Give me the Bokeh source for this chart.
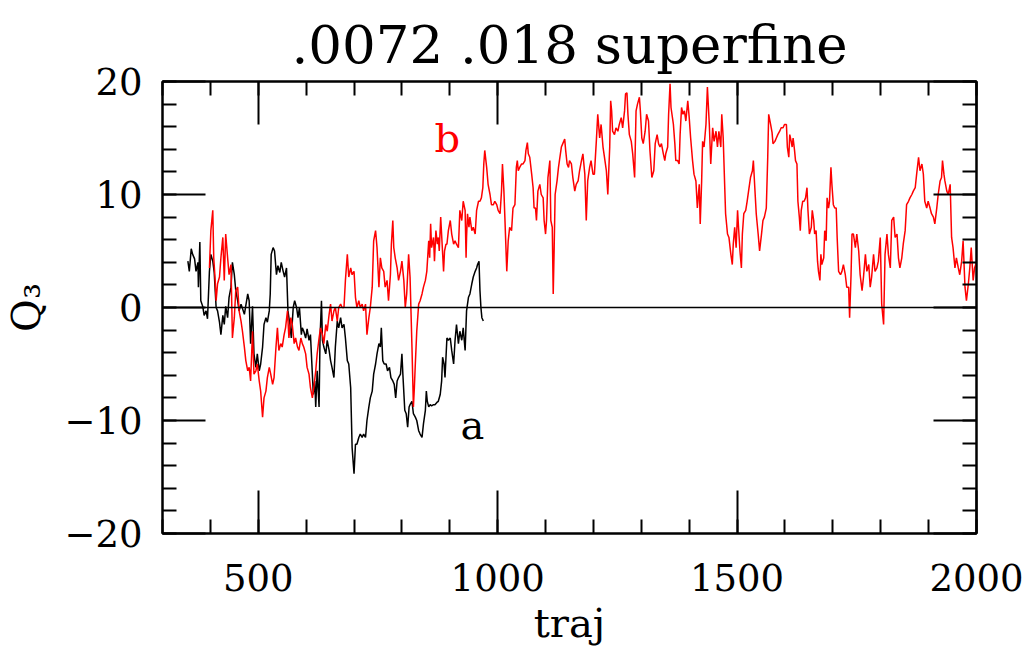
from bokeh.plotting import figure
from bokeh.models import FixedTicker, LinearAxis, Span, Label, CustomJSTickFormatter, Range1d
from bokeh.embed import file_html
from bokeh.resources import INLINE

title_text = ".0072 .018 superfine"
x_label = "traj"
y_label = "Q\u2083"
x_ticks = [500, 1000, 1500, 2000]
y_ticks = [-20, -10, 0, 10, 20]
x_limits = (300, 2000)
y_limits = (-20, 20)

# series "a" (black): (traj, Q3)
a_pts = [
    (353, 4.1), (356, 3.2), (360, 5.2), (363, 4.7), (367, 4.3), (370, 3.2), (374, 4.0), (375, 1.8),
    (378, 5.8), (380, 0.6), (384, 0.1), (387, -0.7), (391, -0.3), (394, -1.0), (398, 3.2), (401, 4.7),
    (405, 4.1), (408, 3.1), (412, 0.0), (415, -0.3), (419, -1.3), (422, -2.4), (426, -0.7), (429, -1.5),
    (432, 0.1), (436, -0.9), (439, 0.9), (443, 1.8), (446, 4.0), (450, 2.9), (453, 1.5), (457, 0.6),
    (460, -0.3), (464, 0.3), (471, -0.6), (478, 1.2), (481, 0.6), (484, -3.2), (488, 0.1), (491, -4.1),
    (495, -5.3), (498, -4.1), (502, -5.6), (505, -5.0), (509, -3.5), (512, -1.5), (516, -0.9), (519, -1.3),
    (523, -0.3), (525, 1.2), (527, 4.7), (531, 5.3), (534, 5.0), (538, 2.9), (541, 3.7), (545, 3.1),
    (548, 4.0), (552, 3.2), (555, 2.7), (559, 3.5), (562, -0.3), (566, -1.5), (569, -2.7), (573, 0.0),
    (576, 0.6), (580, 0.0), (583, -0.9), (586, 0.0), (590, -2.4), (592, -1.8), (595, -2.1), (599, -2.7),
    (602, -1.9), (606, -2.9), (609, -2.4), (613, -5.9), (615, -7.7), (618, -6.5), (620, -8.8), (623, -5.6),
    (627, -8.8), (629, -2.7), (632, 0.6), (634, -2.9), (637, -3.5), (641, -4.1), (644, -2.9), (648, -3.8),
    (651, -4.7), (654, -5.3), (658, -6.2), (661, -3.5), (665, -1.2), (668, -1.8), (672, -0.9), (675, -1.8),
    (679, -1.5), (682, -2.7), (686, -4.7), (689, -5.0), (693, -7.1), (696, -12.4), (700, -14.7), (703, -12.1),
    (706, -12.1), (710, -11.5), (713, -11.2), (717, -11.5), (720, -11.2), (724, -11.5), (727, -10.0), (731, -8.8),
    (734, -8.0), (738, -7.4), (741, -5.9), (745, -5.0), (748, -4.1), (752, -3.2), (755, -3.5), (757, -1.8),
    (760, -4.7), (763, -5.0), (767, -5.0), (770, -5.6), (774, -5.3), (777, -6.2), (781, -6.5), (784, -6.8),
    (787, -8.0), (790, -6.5), (793, -6.2), (797, -5.9), (800, -4.1), (802, -5.9), (806, -9.1), (809, -9.4),
    (812, -10.6), (815, -8.8), (817, -8.6), (821, -8.3), (824, -9.4), (828, -9.7), (831, -10.0), (835, -10.9),
    (838, -11.2), (842, -11.5), (845, -10.3), (849, -9.1), (851, -7.4), (853, -8.3), (856, -8.8), (859, -8.6),
    (862, -8.7), (866, -8.6), (869, -8.6), (873, -8.4), (876, -8.3), (880, -7.7), (883, -6.5), (885, -4.4),
    (888, -5.0), (890, -6.2), (894, -2.7), (897, -2.9), (901, -2.7), (904, -3.8), (908, -5.0), (911, -2.9),
    (914, -1.5), (918, -3.2), (921, -2.1), (925, -2.9), (928, -1.8), (932, -3.8), (935, -0.3), (939, 0.9),
    (942, 1.2), (946, 2.1), (949, 2.7), (953, 3.2), (956, 3.5), (958, 3.8), (961, 4.1), (963, 1.5),
    (965, 0.0), (967, -0.9), (970, -1.2),
]

# series "b" (red): (traj, Q3)
b_pts = [
    (398, 3.5), (401, 6.8), (405, 8.6), (407, 4.4), (410, 2.4), (412, 0.6), (415, 2.1), (419, 2.7),
    (422, 4.4), (426, 6.2), (429, 2.4), (432, 6.5), (436, 4.4), (439, 2.9), (443, 3.8), (446, -2.7),
    (450, -0.9), (453, 1.5), (457, 1.8), (460, -0.3), (464, -1.2), (467, -2.1), (471, -3.5), (474, -4.7),
    (478, -5.6), (481, -5.3), (484, -6.5), (488, -2.1), (491, -5.9), (495, -5.6), (498, -5.0), (502, -6.5),
    (505, -7.4), (509, -9.7), (512, -8.0), (516, -7.4), (519, -6.2), (523, -5.3), (526, -5.9), (530, -6.8),
    (533, -6.2), (537, -3.5), (540, -1.8), (543, -3.8), (547, -3.2), (550, -3.5), (554, -2.4), (557, -1.8),
    (561, -0.3), (564, -2.7), (568, -0.9), (571, -1.5), (575, -3.2), (578, -2.7), (582, -3.5), (585, -3.8),
    (589, -2.7), (592, -3.2), (595, -3.5), (599, -4.1), (602, -5.3), (606, -5.9), (609, -7.1), (613, -8.0),
    (616, -7.1), (620, -5.6), (623, -4.1), (627, -2.7), (630, -1.8), (634, -2.4), (637, -3.2), (641, -1.5),
    (644, -2.1), (648, -0.6), (651, 0.3), (654, -1.2), (658, -0.3), (661, 0.0), (665, -1.2), (668, 0.0),
    (672, 0.3), (675, 0.0), (679, 0.0), (682, 2.4), (686, 4.7), (689, 2.7), (693, 3.5), (696, 2.9),
    (700, 3.2), (703, 0.9), (706, 0.0), (710, 0.6), (713, 0.0), (717, 0.3), (720, -0.3), (724, 0.3),
    (727, -2.4), (731, -0.9), (734, 0.0), (738, 1.8), (741, 5.9), (745, 6.8), (748, 5.3), (752, 1.8),
    (755, 4.4), (758, 3.5), (762, 3.2), (765, 1.8), (769, 2.4), (772, 0.6), (776, 2.9), (778, 5.6),
    (781, 7.7), (783, 5.3), (786, 4.4), (790, 3.5), (793, 2.4), (797, 3.2), (800, 4.1), (804, 2.4),
    (807, 0.0), (810, 1.2), (814, 4.7), (817, 2.7), (821, -3.5), (824, -8.8), (826, -7.1), (828, -5.0),
    (831, -2.1), (835, 0.3), (838, 0.6), (842, 1.2), (845, 1.8), (849, 2.4), (852, 3.2), (856, 5.9),
    (858, 4.4), (860, 7.4), (862, 5.3), (866, 6.2), (868, 4.1), (871, 6.8), (874, 5.6), (876, 6.2),
    (878, 5.0), (881, 8.0), (884, 5.6), (887, 3.2), (889, 5.0), (892, 5.6), (894, 5.6), (897, 6.8),
    (901, 7.7), (904, 6.5), (908, 5.6), (911, 5.9), (914, 5.6), (918, 5.3), (921, 8.6), (925, 7.7),
    (928, 9.4), (932, 8.6), (934, 4.4), (935, 6.2), (937, 8.3), (940, 7.1), (942, 8.0), (946, 6.8),
    (949, 7.1), (953, 6.5), (956, 8.6), (960, 9.4), (963, 9.4), (966, 9.7), (969, 10.6), (971, 12.7),
    (973, 13.9), (977, 12.4), (980, 10.9), (984, 10.0), (987, 9.1), (991, 9.1), (994, 9.4), (998, 9.1),
    (1001, 8.6), (1005, 8.3), (1008, 10.3), (1010, 12.7), (1013, 10.3), (1015, 8.0), (1017, 5.6), (1019, 3.2),
    (1022, 5.9), (1025, 7.1), (1029, 6.8), (1032, 8.8), (1036, 9.1), (1039, 12.4), (1041, 13.0), (1043, 12.1),
    (1046, 12.4), (1050, 12.7), (1053, 12.7), (1057, 13.0), (1059, 13.9), (1062, 14.6), (1064, 13.6), (1067, 13.3),
    (1071, 11.8), (1074, 10.6), (1076, 8.8), (1079, 8.8), (1081, 7.7), (1084, 10.3), (1088, 10.9), (1091, 10.0),
    (1095, 9.7), (1097, 7.7), (1100, 6.5), (1102, 7.7), (1105, 11.5), (1109, 13.0), (1111, 7.7), (1114, 7.1),
    (1116, 1.2), (1118, 5.3), (1120, 10.0), (1124, 11.2), (1127, 12.4), (1130, 13.3), (1133, 14.2), (1136, 14.5),
    (1140, 14.9), (1142, 13.9), (1145, 12.7), (1148, 12.4), (1150, 13.0), (1154, 12.7), (1157, 11.5), (1161, 10.3),
    (1164, 10.9), (1168, 11.2), (1171, 12.1), (1175, 13.0), (1178, 13.6), (1182, 11.8), (1185, 7.7), (1188, 11.2),
    (1192, 12.4), (1195, 13.0), (1199, 11.8), (1202, 11.8), (1206, 14.7), (1209, 17.1), (1213, 15.0), (1216, 16.2),
    (1220, 14.2), (1223, 13.3), (1227, 12.1), (1230, 10.0), (1234, 14.2), (1236, 18.3), (1238, 17.4), (1240, 15.6),
    (1244, 15.3), (1247, 15.9), (1251, 15.6), (1254, 16.2), (1258, 16.8), (1261, 15.9), (1265, 17.4), (1267, 18.9),
    (1270, 19.0), (1272, 17.1), (1275, 15.3), (1279, 14.7), (1282, 13.6), (1286, 11.5), (1289, 17.4), (1292, 18.0),
    (1296, 18.6), (1298, 17.4), (1301, 15.0), (1304, 14.5), (1308, 15.6), (1311, 17.1), (1315, 16.5), (1318, 13.9),
    (1322, 11.5), (1326, 12.1), (1329, 14.5), (1333, 15.3), (1336, 14.5), (1339, 14.2), (1342, 14.5), (1346, 13.6),
    (1349, 13.0), (1351, 13.6), (1355, 14.2), (1357, 17.1), (1360, 19.8), (1362, 17.7), (1364, 17.1), (1367, 16.2),
    (1370, 14.5), (1372, 13.0), (1376, 13.0), (1379, 12.7), (1381, 15.3), (1384, 17.7), (1387, 17.1), (1390, 17.4),
    (1393, 16.5), (1397, 18.3), (1400, 16.8), (1403, 15.0), (1407, 13.0), (1410, 11.8), (1414, 11.2), (1417, 8.8),
    (1421, 10.9), (1423, 7.4), (1426, 11.2), (1428, 14.7), (1431, 14.2), (1435, 16.2), (1438, 19.5), (1442, 16.2),
    (1445, 12.7), (1449, 15.9), (1452, 14.7), (1456, 15.6), (1459, 14.2), (1462, 15.6), (1466, 14.2), (1468, 17.1),
    (1471, 15.0), (1474, 10.9), (1476, 8.3), (1480, 6.5), (1483, 6.2), (1487, 4.7), (1490, 3.8), (1492, 5.6),
    (1495, 7.1), (1498, 5.3), (1501, 8.6), (1503, 7.1), (1506, 5.0), (1509, 3.5), (1511, 6.5), (1514, 8.3),
    (1518, 8.6), (1521, 9.4), (1525, 10.6), (1528, 11.5), (1532, 12.1), (1534, 13.0), (1537, 10.6), (1540, 8.3),
    (1544, 6.5), (1547, 5.0), (1551, 6.5), (1554, 7.7), (1557, 8.0), (1561, 8.8), (1564, 13.3), (1566, 17.1),
    (1570, 16.2), (1573, 15.5), (1575, 14.5), (1579, 14.7), (1582, 15.0), (1585, 15.3), (1589, 15.6), (1592, 15.9),
    (1596, 15.9), (1599, 16.2), (1603, 16.2), (1605, 14.2), (1608, 13.3), (1610, 15.3), (1613, 14.7), (1615, 14.2),
    (1617, 15.0), (1620, 13.9), (1622, 13.0), (1625, 12.7), (1627, 9.4), (1630, 8.0), (1632, 6.8), (1634, 8.6),
    (1637, 9.4), (1640, 9.4), (1643, 9.7), (1646, 10.6), (1648, 8.6), (1651, 6.5), (1655, 7.1), (1657, 8.6),
    (1660, 7.7), (1662, 6.5), (1665, 6.8), (1668, 4.1), (1670, 3.2), (1673, 2.4), (1675, 4.7), (1677, 3.8),
    (1681, 4.4), (1683, 6.8), (1686, 5.9), (1688, 9.7), (1691, 8.8), (1693, 9.4), (1696, 12.4), (1698, 10.9),
    (1701, 9.1), (1704, 8.8), (1707, 8.8), (1709, 6.2), (1712, 3.2), (1716, 2.9), (1719, 3.2), (1722, 3.8),
    (1726, 2.9), (1729, 1.8), (1733, 1.8), (1735, -0.9), (1738, 2.9), (1740, 6.5), (1743, 6.5), (1747, 5.3),
    (1750, 6.5), (1754, 5.0), (1757, 2.9), (1761, 1.5), (1764, 2.7), (1768, 4.7), (1771, 3.2), (1775, 3.8),
    (1778, 1.8), (1781, 2.7), (1785, 4.7), (1788, 3.2), (1792, 3.5), (1795, 4.1), (1799, 6.2), (1802, 0.3),
    (1806, -1.5), (1809, 4.7), (1813, 6.5), (1816, 4.7), (1820, 3.5), (1823, 7.7), (1827, 8.0), (1830, 6.2),
    (1834, 6.5), (1837, 4.4), (1840, 3.5), (1844, 4.4), (1847, 5.6), (1851, 6.8), (1854, 9.1), (1858, 9.4),
    (1861, 9.7), (1865, 10.0), (1868, 10.3), (1872, 10.6), (1875, 11.8), (1879, 13.3), (1882, 12.1), (1886, 12.7),
    (1889, 11.8), (1892, 9.4), (1896, 8.8), (1899, 9.4), (1903, 8.8), (1906, 8.3), (1910, 8.0), (1913, 7.4),
    (1917, 8.8), (1920, 10.0), (1924, 11.2), (1927, 11.5), (1929, 13.0), (1932, 11.8), (1934, 11.2), (1938, 10.3),
    (1941, 10.0), (1945, 10.9), (1948, 6.2), (1951, 5.3), (1955, 3.5), (1958, 4.4), (1962, 3.5), (1965, 2.9),
    (1969, 4.1), (1972, 5.9), (1976, 1.8), (1979, 0.6), (1983, 2.1), (1986, 3.5), (1989, 5.3), (1993, 2.4),
    (1996, 3.5), (2000, 4.0),
]

series_labels = ["a", "b"]
label_pos = [(947, -10.4), (895, 15.0)]
series_colors = ["black", "red"]

a_x = [p_[0] for p_ in a_pts]
a_y = [p_[1] for p_ in a_pts]
b_x = [p_[0] for p_ in b_pts]
b_y = [p_[1] for p_ in b_pts]

FONT = "DejaVu Serif"

p = figure(width=1028, height=656, output_backend="svg", toolbar_location=None,
           x_range=Range1d(*x_limits), y_range=Range1d(*y_limits),
           min_border_left=158, min_border_right=52, min_border_top=81, min_border_bottom=123,
           title=title_text, x_axis_label=x_label, y_axis_label=y_label)
p.background_fill_color = "white"
p.border_fill_color = "white"
p.grid.visible = False
p.outline_line_color = "black"
p.outline_line_width = 2

p.title.text_font = FONT
p.title.text_font_size = "53px"
p.title.text_font_style = "normal"
p.title.align = "center"
p.title.text_color = "black"
p.title.standoff = 14

x_ticker = FixedTicker(ticks=x_ticks, minor_ticks=list(range(x_limits[0], x_limits[1] + 1, 100)))
y_ticker = FixedTicker(ticks=y_ticks, minor_ticks=list(range(y_limits[0], y_limits[1] + 1, 2)))


def style_axis(ax, ticker, show_labels):
    ax.ticker = ticker
    ax.axis_line_color = "black"
    ax.axis_line_width = 2
    ax.major_tick_line_color = "black"
    ax.major_tick_line_width = 2
    ax.minor_tick_line_color = "black"
    ax.minor_tick_line_width = 2
    ax.major_tick_in = 43
    ax.major_tick_out = 0
    ax.minor_tick_in = 14
    ax.minor_tick_out = 0
    if show_labels:
        ax.major_label_text_font = FONT
        ax.major_label_text_font_size = "37px"
        ax.major_label_text_color = "black"
        ax.axis_label_text_font = FONT
        ax.axis_label_text_font_size = "40px"
        ax.axis_label_text_font_style = "normal"
        ax.axis_label_text_color = "black"
    else:
        ax.formatter = CustomJSTickFormatter(code="return ''")
        ax.major_label_text_font_size = "0px"
        ax.major_label_standoff = 0


style_axis(p.xaxis[0], x_ticker, True)
style_axis(p.yaxis[0], y_ticker, True)
p.xaxis[0].major_label_standoff = 30
p.xaxis[0].axis_label_standoff = 6
p.yaxis[0].major_label_standoff = 20
p.yaxis[0].axis_label_standoff = 12
p.yaxis[0].major_label_orientation = "horizontal"

top_ax = LinearAxis()
right_ax = LinearAxis()
style_axis(top_ax, x_ticker, False)
style_axis(right_ax, y_ticker, False)
p.add_layout(top_ax, "above")
p.add_layout(right_ax, "right")

p.line(a_x, a_y, line_color=series_colors[0], line_width=1.5)
p.line(b_x, b_y, line_color=series_colors[1], line_width=1.5)

p.add_layout(Span(location=0, dimension="width", line_color="black", line_width=1.5))

for txt, (lx, ly), col in zip(series_labels, label_pos, series_colors):
    p.add_layout(Label(x=lx, y=ly, text=txt, text_font=FONT, text_font_size="40px",
                       text_align="center", text_baseline="alphabetic", text_color=col))

open("out.html", "w").write(file_html(p, INLINE))
